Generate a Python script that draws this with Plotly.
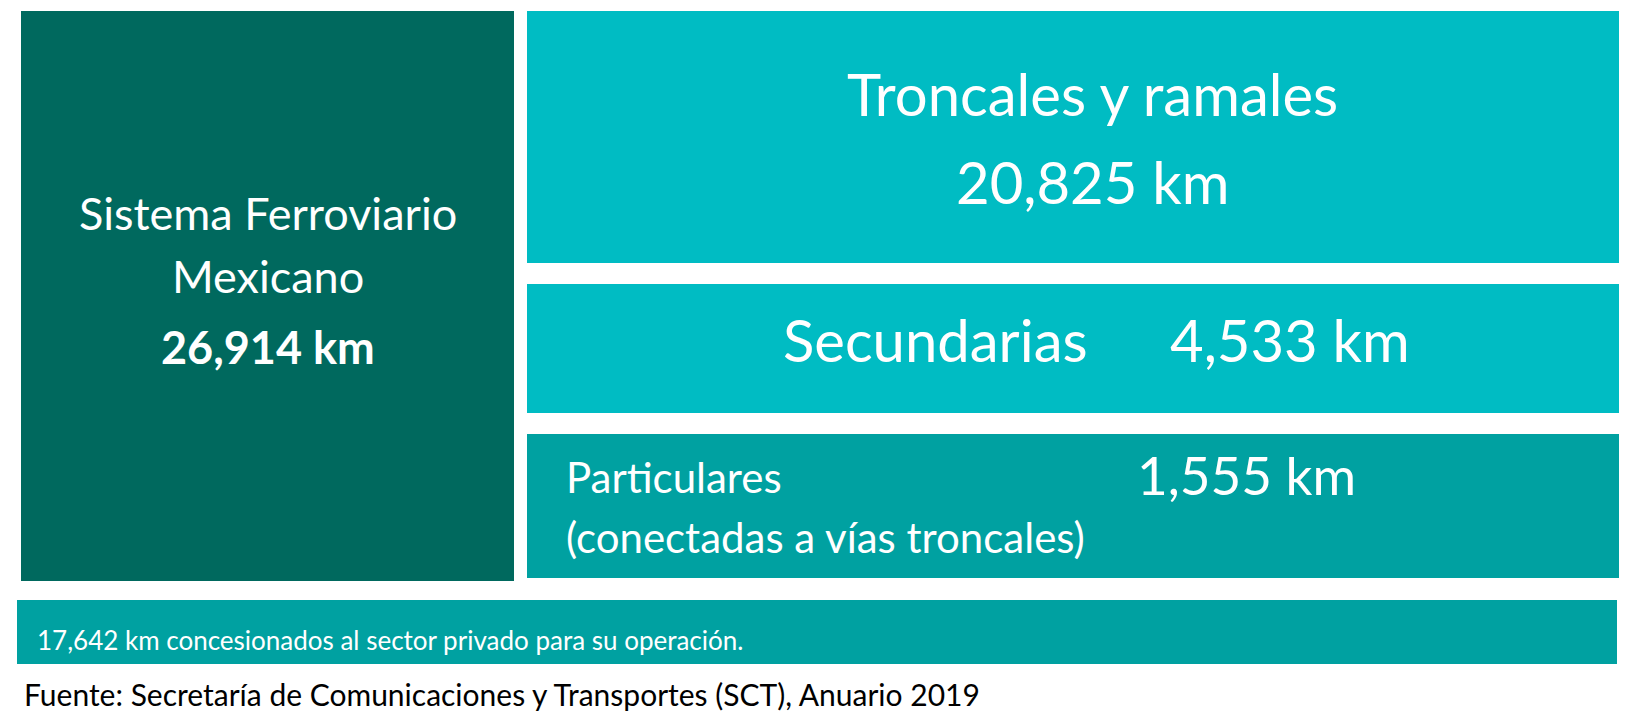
import plotly.graph_objects as go

total_label = ["Sistema Ferroviario", "Mexicano"]
total_km = 26914
categories = ["Troncales y ramales", "Secundarias", "Particulares", "(conectadas a vías troncales)"]
values_km = [20825, 4533, 1555]
concesionados_km = 17642
fuente = "Fuente: Secretaría de Comunicaciones y Transportes (SCT), Anuario 2019"

F = "Lato"
DARK = "#00695E"
CYAN = "#00BCC3"
TEAL = "#00A1A1"
km = lambda v: f"{v:,} km"
DX, DY = -8, -8

fig = go.Figure()
shapes = [
    dict(x0=21, x1=514, y0=11, y1=581, color=DARK),
    dict(x0=527, x1=1619, y0=11, y1=263, color=CYAN),
    dict(x0=527, x1=1619, y0=284, y1=413, color=CYAN),
    dict(x0=527, x1=1619, y0=434, y1=578, color=TEAL),
    dict(x0=17, x1=1617, y0=600, y1=664, color=TEAL),
]
for s in shapes:
    fig.add_shape(type="rect", xref="x", yref="y", x0=s["x0"] + DX, x1=s["x1"] + DX,
                  y0=s["y0"] + DY, y1=s["y1"] + DY,
                  fillcolor=s["color"], line=dict(width=0), layer="below")

def ann(x, y, t, size, xa="center", color="white"):
    fig.add_annotation(x=x + DX, y=y + DY, text=t, showarrow=False, xanchor=xa, yanchor="middle",
                       font=dict(family=F, size=size, color=color))

ann(268, 213, total_label[0], 45)
ann(268, 276, total_label[1], 45)
ann(268, 347, f"<b>{km(total_km)}</b>", 45)
ann(1092, 93, categories[0], 58)
ann(1092, 181, km(values_km[0]), 58)
ann(935, 339, categories[1], 58)
ann(1290, 339, km(values_km[1]), 58)
ann(564, 477, categories[2], 42, xa="left")
ann(564, 537, categories[3], 42, xa="left")
ann(1246, 474, km(values_km[2]), 53)
ann(35, 640, f"{km(concesionados_km)} concesionados al sector privado para su operación.", 26, xa="left")
ann(22, 694, fuente, 30, xa="left", color="black")

fig.update_xaxes(range=[0, 1650], visible=False, fixedrange=True)
fig.update_yaxes(range=[720, 0], visible=False, fixedrange=True)
fig.update_layout(width=1650, height=720, margin=dict(l=0, r=0, t=0, b=0),
                  plot_bgcolor="white", paper_bgcolor="white", showlegend=False)
fig.write_html("out.html", config={"displayModeBar": False})
